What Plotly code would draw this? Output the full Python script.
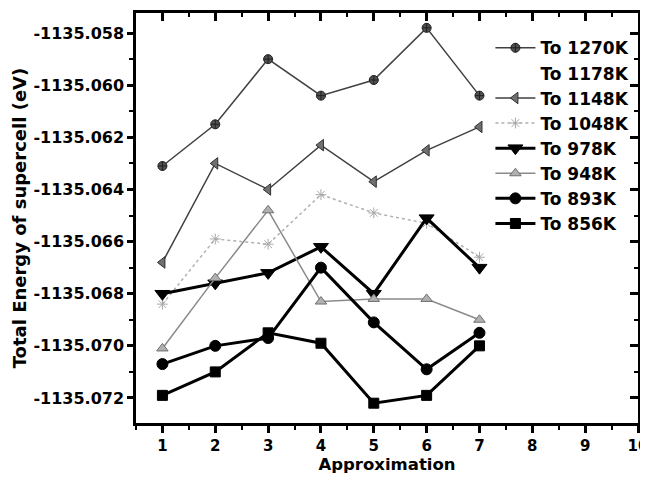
import plotly.graph_objects as go

approximation = [1, 2, 3, 4, 5, 6, 7]

series_names = ["To 1270K", "To 1178K", "To 1148K", "To 1048K",
                "To 978K", "To 948K", "To 893K", "To 856K"]

e_1270 = [-1135.0631, -1135.0615, -1135.0590, -1135.0604, -1135.0598, -1135.0578, -1135.0604]
e_1178 = [None, None, None, None, None, None, None]
e_1148 = [-1135.0668, -1135.0630, -1135.0640, -1135.0623, -1135.0637, -1135.0625, -1135.0616]
e_1048 = [-1135.0684, -1135.0659, -1135.0661, -1135.0642, -1135.0649, -1135.0653, -1135.0666]
e_978 = [-1135.0680, -1135.0676, -1135.0672, -1135.0662, -1135.0680, -1135.0651, -1135.0670]
e_948 = [-1135.0701, -1135.0674, -1135.0648, -1135.0683, -1135.0682, -1135.0682, -1135.0690]
e_893 = [-1135.0707, -1135.0700, -1135.0697, -1135.0670, -1135.0691, -1135.0709, -1135.0695]
e_856 = [-1135.0719, -1135.0710, -1135.0695, -1135.0699, -1135.0722, -1135.0719, -1135.0700]

y_tick_vals = [-1135.058, -1135.060, -1135.062, -1135.064, -1135.066, -1135.068, -1135.070, -1135.072]
y_tick_labels = ["-1135.058", "-1135.060", "-1135.062", "-1135.064",
                 "-1135.066", "-1135.068", "-1135.070", "-1135.072"]
x_tick_vals = [1, 2, 3, 4, 5, 6, 7, 8, 9, 10]
x_tick_labels = ["1", "2", "3", "4", "5", "6", "7", "8", "9", "10"]

styles = [
    dict(color="#404040", width=1.5, dash="solid", symbol="circle-cross", msize=9, mcolor="#505050", mline="#202020"),
    dict(color="rgba(0,0,0,0)", width=1.5, dash="solid", symbol="circle", msize=1, mcolor="rgba(0,0,0,0)", mline="rgba(0,0,0,0)"),
    dict(color="#404040", width=1.5, dash="solid", symbol="triangle-left", msize=10, mcolor="#707070", mline="#303030"),
    dict(color="#b0b0b0", width=1.5, dash="dot", symbol="asterisk-open", msize=9, mcolor="#a8a8a8", mline="#a8a8a8"),
    dict(color="#000000", width=3, dash="solid", symbol="triangle-down", msize=13, mcolor="#000000", mline="#000000"),
    dict(color="#8a8a8a", width=1.5, dash="solid", symbol="triangle-up", msize=10, mcolor="#b0b0b0", mline="#707070"),
    dict(color="#000000", width=3, dash="solid", symbol="circle", msize=11, mcolor="#000000", mline="#000000"),
    dict(color="#000000", width=3, dash="solid", symbol="square", msize=10, mcolor="#000000", mline="#000000"),
]

all_series = [e_1270, e_1178, e_1148, e_1048, e_978, e_948, e_893, e_856]

fig = go.Figure()
for name, vals, st in zip(series_names, all_series, styles):
    fig.add_trace(go.Scatter(
        x=approximation, y=vals, name=name, mode="lines+markers",
        line=dict(color=st["color"], width=st["width"], dash=st["dash"]),
        marker=dict(symbol=st["symbol"], size=st["msize"], color=st["mcolor"],
                    line=dict(color=st["mline"], width=1)),
    ))

# invisible trace to host mirrored (inside-tick) top/right axes
fig.add_trace(go.Scatter(x=[None], y=[None], xaxis="x2", yaxis="y2", showlegend=False, hoverinfo="skip"))

x_range = [0.5, 10.0]
y_range = [-1135.07296, -1135.05723]

tick_font = dict(family="DejaVu Sans", size=16, color="black", weight="bold")

# page body has an 8px margin and the view may lose a scrollbar's width,
# so the figure is sized to stay fully visible
fig.update_layout(
    template="none",
    width=632, height=467,
    margin=dict(l=128, r=2, t=5, b=52, autoexpand=False),
    paper_bgcolor="white", plot_bgcolor="white",
    showlegend=True,
    legend=dict(
        x=0.706, y=0.958, xanchor="left", yanchor="top",
        bgcolor="rgba(0,0,0,0)", borderwidth=0,
        font=dict(family="DejaVu Sans", size=17, color="black", weight="bold"),
        itemwidth=40, tracegroupgap=0,
    ),
    xaxis=dict(
        range=x_range, autorange=False, tickmode="array", tickvals=x_tick_vals, ticktext=x_tick_labels,
        ticks="outside", ticklen=7, tickwidth=2.5, tickcolor="black", ticklabeloverflow="allow",
        showline=True, linecolor="black", linewidth=2.5, mirror=True, automargin=False,
        showgrid=False, zeroline=False, tickfont=dict(family="DejaVu Sans", size=15, color="black", weight="bold"),
        minor=dict(tick0=0.5, dtick=1, ticks="outside", ticklen=4, tickwidth=2, tickcolor="black", showgrid=False),
        title=dict(text="Approximation", standoff=3,
                   font=dict(family="DejaVu Sans", size=16.5, color="black", weight="bold")),
    ),
    yaxis=dict(
        range=y_range, autorange=False, tickmode="array", tickvals=y_tick_vals, ticktext=y_tick_labels,
        ticks="outside", ticklen=6, tickwidth=2.5, tickcolor="black",
        showline=True, linecolor="black", linewidth=2.5, mirror=True, automargin=False,
        showgrid=False, zeroline=False, tickfont=tick_font,
        minor=dict(tick0=-1135.057, dtick=0.002, ticks="outside", ticklen=4, tickwidth=2, tickcolor="black", showgrid=False),
        title=dict(text="Total Energy of supercell (eV)", standoff=3,
                   font=dict(family="DejaVu Sans", size=18, color="black", weight="bold")),
    ),
    xaxis2=dict(
        overlaying="x", side="top", range=x_range, autorange=False, anchor="y2",
        tickmode="array", tickvals=x_tick_vals, showticklabels=False, automargin=False,
        ticks="inside", ticklen=8, tickwidth=2.5, tickcolor="black",
        showline=False, showgrid=False, zeroline=False,
        minor=dict(tick0=0.5, dtick=1, ticks="inside", ticklen=4, tickwidth=2, tickcolor="black", showgrid=False),
    ),
    yaxis2=dict(
        overlaying="y", side="right", range=y_range, autorange=False, anchor="x2",
        tickmode="array", tickvals=y_tick_vals, showticklabels=False, automargin=False,
        ticks="inside", ticklen=8, tickwidth=2.5, tickcolor="black",
        showline=False, showgrid=False, zeroline=False,
        minor=dict(tick0=-1135.057, dtick=0.002, ticks="inside", ticklen=4, tickwidth=2, tickcolor="black", showgrid=False),
    ),
)

fig.write_html("out.html")
